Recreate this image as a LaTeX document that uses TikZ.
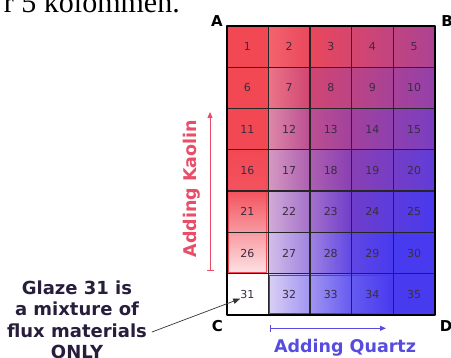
\documentclass[tikz,border=0pt]{standalone}
\usepackage{fontspec}
\setmainfont{DejaVu Sans}
\newfontfamily\cutserif{Liberation Serif}
\usepackage{tikz}
\usetikzlibrary{arrows.meta}
\definecolor{glazered}{RGB}{242,72,84}
\definecolor{glazeblue}{RGB}{72,58,238}
\definecolor{kaolinred}{RGB}{232,78,104}
\definecolor{quartzblue}{RGB}{88,76,222}
\definecolor{numgray}{RGB}{58,44,66}
\definecolor{glazeink}{RGB}{40,30,60}

\begin{document}
\begin{tikzpicture}[x=1pt,y=1pt,line cap=round,line join=round,
  cellnum/.style={inner sep=0pt,text=numgray,font=\fontsize{11}{13}\selectfont},
  corner/.style={inner sep=0pt,font=\bfseries\fontsize{15}{17}\selectfont},
  cellline/.style={black!85,line width=1.2pt},
  bigtext/.style={inner sep=0pt,font=\bfseries\fontsize{17.5}{21.5}\selectfont}]
 \useasboundingbox (0,0) rectangle (451,358);
 \def\cw{41.7}
 \def\ch{41.3}
 % cut-off line of the page above
 \node[anchor=base east,inner sep=0pt,font=\cutserif\fontsize{30}{32}\selectfont]
  (pagetext) at (180,345) {r 5 kolommen.};
 \begin{scope}[shift={(226.5,43)}]
  % kaolin column: red fading to white
  \foreach \r in {0,...,5}{
   \pgfmathtruncatemacro\st{100*min(1,0.75-0.4*(\r-4.5))}
   \pgfmathtruncatemacro\sb{100*min(1,0.75-0.4*(\r+1-4.5))}
   \shade[top color=glazered!\st!white,bottom color=glazered!\sb!white]
    (0,{(6-\r)*\ch}) rectangle (\cw,{(7-\r)*\ch});
  }
  % red to blue mixtures
  \foreach \c in {1,...,4}
   \foreach \r in {0,...,6}{
    \pgfmathtruncatemacro\tl{100*max(0,min(1,0.15*\r+0.12*(\c-1.5)))}
    \pgfmathtruncatemacro\tr{100*max(0,min(1,0.15*\r+0.12*(\c-0.5)))}
    \pgfmathtruncatemacro\sl{100*max(0,min(1,1-0.1*\r+0.3*(\c-1.5)))}
    \pgfmathtruncatemacro\sr{100*max(0,min(1,1-0.1*\r+0.3*(\c-0.5)))}
    \shade[left color=glazeblue!\tl!glazered!\sl!white,
     right color=glazeblue!\tr!glazered!\sr!white]
     (\c*\cw,{(6-\r)*\ch}) rectangle ({(\c+1)*\cw},{(7-\r)*\ch});
   }
  \draw[glazered,line width=1.2pt] (1.5,{\ch+1.5}) rectangle ({\cw-1.5},{7*\ch-1.5});
  \draw[glazeblue,line width=1.2pt] ({\cw+1.5},1.5) rectangle ({5*\cw-1.5},{\ch-1.5});
  \foreach \c in {1,...,4}
   \draw[cellline] (\c*\cw,0) -- (\c*\cw,7*\ch);
  \foreach \r in {1,...,6}
   \draw[cellline] (0,\r*\ch) -- (5*\cw,\r*\ch);
  \draw[line width=2pt] (0,0) rectangle (5*\cw,7*\ch);
  \foreach \r in {0,...,6}
   \foreach \c in {0,...,4}{
    \pgfmathtruncatemacro\n{5*\r+\c+1}
    \node[cellnum] (n\n) at ({(\c+0.5)*\cw},{(6.5-\r)*\ch}) {\n};
   }
 \end{scope}
 % corners
 \node[corner] (cornerA) at (217,337) {A};
 \node[corner] (cornerB) at (447,337) {B};
 \node[corner] (cornerC) at (217.5,32) {C};
 \node[corner] (cornerD) at (446,32) {D};
 % kaolin axis
 \coordinate (kaolinlow) at (210,87);
 \coordinate (kaolinhigh) at (210,246);
 \draw[kaolinred,line width=1pt,{Bar[width=7pt]}-{Triangle[length=6pt,width=5pt]}]
  (kaolinlow) -- (kaolinhigh);
 \node[bigtext,text=kaolinred,rotate=90,anchor=base] (kaolin) at (196,169.5) {Adding Kaolin};
 % quartz axis
 \coordinate (quartzlow) at (270,29.7);
 \coordinate (quartzhigh) at (386,29.7);
 \draw[quartzblue,line width=1pt,{Bar[width=7pt]}-{Triangle[length=6pt,width=5pt]}]
  (quartzlow) -- (quartzhigh);
 \node[bigtext,text=quartzblue,anchor=base] (quartz) at (345,5.3) {Adding Quartz};
 % note on glaze 31
 \node[bigtext,text=glazeink,align=center,anchor=south,font=\bfseries\fontsize{18}{21.5}\selectfont]
  (glaze) at (77,-1) {Glaze 31 is\\a mixture of\\flux materials\\ONLY};
 \coordinate (glazeend) at (152,26);
 \draw[black!80,line width=0.7pt,-{Triangle[length=7pt,width=5.5pt]}] (glazeend) -- (n31.south west);
\end{tikzpicture}
\end{document}
